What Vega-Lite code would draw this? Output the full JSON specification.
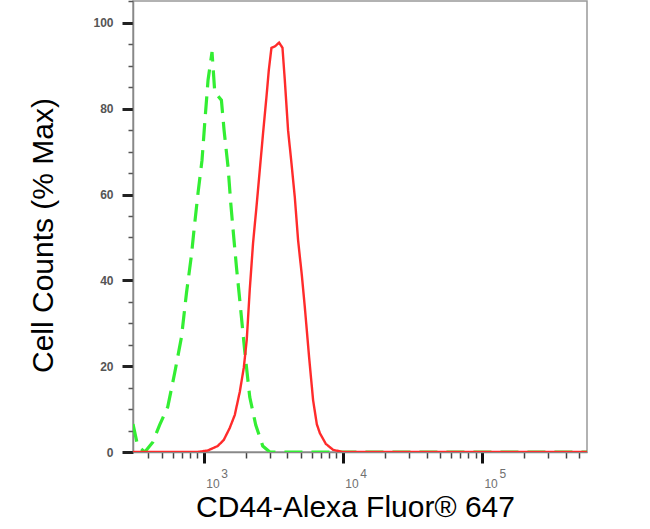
{
  "$schema": "https://vega.github.io/schema/vega-lite/v6.json",
  "autosize": "none",
  "width": 454,
  "height": 451,
  "padding": {"left": 133, "top": 1, "right": 63, "bottom": 77},
  "background": "white",
  "config": {
    "view": {"stroke": "#999999", "strokeWidth": 1.5},
    "font": "Liberation Sans",
    "axis": {"grid": false, "labelOverlap": false, "labelBound": false, "labelFlush": false}
  },
  "data": {
    "values": [
      {"series": "Control", "x": 310, "y": 6.5},
      {"series": "Control", "x": 335, "y": 1.4},
      {"series": "Control", "x": 377, "y": 0},
      {"series": "Control", "x": 430, "y": 2.3},
      {"series": "Control", "x": 482, "y": 6.3},
      {"series": "Control", "x": 551, "y": 10.5},
      {"series": "Control", "x": 618, "y": 18.4},
      {"series": "Control", "x": 692, "y": 26.8},
      {"series": "Control", "x": 751, "y": 37},
      {"series": "Control", "x": 816, "y": 45.9},
      {"series": "Control", "x": 851, "y": 51.7},
      {"series": "Control", "x": 910, "y": 60.4},
      {"series": "Control", "x": 972, "y": 68},
      {"series": "Control", "x": 1017, "y": 76.7},
      {"series": "Control", "x": 1074, "y": 86.7},
      {"series": "Control", "x": 1147, "y": 93.2},
      {"series": "Control", "x": 1200, "y": 83.9},
      {"series": "Control", "x": 1340, "y": 82},
      {"series": "Control", "x": 1400, "y": 75},
      {"series": "Control", "x": 1496, "y": 66.4},
      {"series": "Control", "x": 1564, "y": 58},
      {"series": "Control", "x": 1643, "y": 50.1},
      {"series": "Control", "x": 1719, "y": 43.1},
      {"series": "Control", "x": 1816, "y": 35.4},
      {"series": "Control", "x": 1972, "y": 23.5},
      {"series": "Control", "x": 2142, "y": 12.8},
      {"series": "Control", "x": 2366, "y": 6.3},
      {"series": "Control", "x": 2656, "y": 1.4},
      {"series": "Control", "x": 2985, "y": 0},
      {"series": "Control", "x": 8000, "y": 0},
      {"series": "Control", "x": 50000, "y": 0},
      {"series": "Control", "x": 570000, "y": 0},
      {"series": "CD44", "x": 310, "y": 0},
      {"series": "CD44", "x": 900, "y": 0},
      {"series": "CD44", "x": 1069, "y": 0.35},
      {"series": "CD44", "x": 1261, "y": 1.4},
      {"series": "CD44", "x": 1393, "y": 2.8},
      {"series": "CD44", "x": 1538, "y": 5.6},
      {"series": "CD44", "x": 1671, "y": 8.6},
      {"series": "CD44", "x": 1816, "y": 14},
      {"series": "CD44", "x": 1940, "y": 19.6},
      {"series": "CD44", "x": 2038, "y": 26.1},
      {"series": "CD44", "x": 2142, "y": 37.8},
      {"series": "CD44", "x": 2263, "y": 48.7},
      {"series": "CD44", "x": 2394, "y": 57.1},
      {"series": "CD44", "x": 2529, "y": 65.7},
      {"series": "CD44", "x": 2672, "y": 74.4},
      {"series": "CD44", "x": 2826, "y": 82.8},
      {"series": "CD44", "x": 2937, "y": 89},
      {"series": "CD44", "x": 3069, "y": 94.2},
      {"series": "CD44", "x": 3243, "y": 94.5},
      {"series": "CD44", "x": 3481, "y": 95.4},
      {"series": "CD44", "x": 3683, "y": 94.2},
      {"series": "CD44", "x": 3827, "y": 86.7},
      {"series": "CD44", "x": 4040, "y": 75},
      {"series": "CD44", "x": 4271, "y": 67.4},
      {"series": "CD44", "x": 4516, "y": 59.4},
      {"series": "CD44", "x": 4768, "y": 49.4},
      {"series": "CD44", "x": 5070, "y": 41.3},
      {"series": "CD44", "x": 5330, "y": 33.8},
      {"series": "CD44", "x": 5723, "y": 22.1},
      {"series": "CD44", "x": 6113, "y": 12.1},
      {"series": "CD44", "x": 6502, "y": 6.5},
      {"series": "CD44", "x": 6836, "y": 4.4},
      {"series": "CD44", "x": 7551, "y": 1.9},
      {"series": "CD44", "x": 8517, "y": 0.5},
      {"series": "CD44", "x": 10000, "y": 0},
      {"series": "CD44", "x": 100000, "y": 0},
      {"series": "CD44", "x": 570000, "y": 0}
    ]
  },
  "resolve": {"axis": {"x": "independent", "y": "independent"}},
  "layer": [
    {
      "mark": {"type": "point", "opacity": 0},
      "encoding": {
        "x": {
          "field": "x", "type": "quantitative",
          "scale": {"type": "log", "domain": [310, 570000], "nice": false},
          "axis": {
            "orient": "bottom", "title": null, "domain": false,
            "values": [400, 500, 600, 700, 800, 900, 2000, 3000, 4000, 5000, 6000, 7000, 8000, 9000, 20000, 30000, 40000, 50000, 60000, 70000, 80000, 90000, 200000, 300000, 400000, 500000],
            "ticks": true, "tickSize": 6, "tickWidth": 1.5, "tickColor": "#444444",
            "labels": false
          }
        },
        "y": {
          "field": "y", "type": "quantitative",
          "scale": {"domain": [0, 105.1], "nice": false, "zero": true},
          "axis": {
            "orient": "left", "title": null, "domain": false,
            "values": [5, 10, 15, 25, 30, 35, 45, 50, 55, 65, 70, 75, 85, 90, 95, 105],
            "ticks": true, "tickSize": 5, "tickWidth": 1.5, "tickColor": "#555555",
            "labels": false
          }
        }
      }
    },
    {
      "mark": {"type": "point", "opacity": 0},
      "encoding": {
        "x": {
          "field": "x", "type": "quantitative",
          "axis": {
            "orient": "bottom", "title": null, "domain": false,
            "values": [1000, 10000, 100000],
            "ticks": false, "tickSize": 0,
            "labelExpr": "'10'",
            "labelAlign": "left", "labelBaseline": "alphabetic",
            "labelOffset": 2, "labelPadding": 35,
            "labelFontSize": 12, "labelColor": "#707070", "labelFont": "Liberation Sans"
          }
        },
        "y": {"field": "y", "type": "quantitative", "axis": null}
      }
    },
    {
      "mark": {"type": "point", "opacity": 0},
      "encoding": {
        "x": {
          "field": "x", "type": "quantitative",
          "axis": {
            "orient": "bottom", "title": null, "domain": false,
            "values": [1000, 10000, 100000],
            "ticks": false, "tickSize": 0,
            "labelExpr": "datum.value == 1000 ? '3' : datum.value == 10000 ? '4' : '5'",
            "labelAlign": "left", "labelBaseline": "alphabetic",
            "labelOffset": 17, "labelPadding": 25,
            "labelFontSize": 12, "labelColor": "#707070", "labelFont": "Liberation Sans"
          }
        },
        "y": {"field": "y", "type": "quantitative", "axis": null}
      }
    },
    {
      "mark": {"type": "line", "clip": true, "interpolate": "linear"},
      "encoding": {
        "x": {
          "field": "x", "type": "quantitative",
          "axis": {
            "orient": "bottom",
            "title": "CD44-Alexa Fluor® 647",
            "titleFont": "Liberation Sans",
            "titleFontSize": 30,
            "titleFontWeight": "normal",
            "titleColor": "#000000",
            "titleX": 222,
            "titleY": 64,
            "titleAlign": "center",
            "titleBaseline": "alphabetic",
            "domainColor": "#888888",
            "domainWidth": 1.5,
            "values": [1000, 10000, 100000],
            "ticks": true, "tickSize": 11, "tickWidth": 3, "tickColor": "#111111",
            "labels": false
          }
        },
        "y": {
          "field": "y", "type": "quantitative",
          "axis": {
            "orient": "left",
            "title": "Cell Counts (% Max)",
            "titleFont": "Liberation Sans",
            "titleFontSize": 30,
            "titleFontWeight": "normal",
            "titleColor": "#000000",
            "titleAngle": -90,
            "titleX": -90,
            "titleY": 234,
            "titleAlign": "center",
            "titleBaseline": "middle",
            "domainColor": "#888888",
            "domainWidth": 1.5,
            "values": [0, 20, 40, 60, 80, 100],
            "ticks": true, "tickSize": 11, "tickWidth": 3, "tickColor": "#222222",
            "labelPadding": 9,
            "labelFontSize": 12,
            "labelFontWeight": "bold",
            "labelColor": "#555555",
            "labelFont": "Liberation Sans"
          }
        },
        "color": {
          "field": "series", "type": "nominal",
          "scale": {"domain": ["Control", "CD44"], "range": ["#33ee33", "#ff2b2b"]},
          "legend": null
        },
        "strokeDash": {
          "field": "series", "type": "nominal",
          "scale": {"domain": ["Control", "CD44"], "range": [[18, 9], [1, 0]]},
          "legend": null
        },
        "strokeWidth": {
          "field": "series", "type": "nominal",
          "scale": {"domain": ["Control", "CD44"], "range": [3.2, 2.4]},
          "legend": null
        }
      }
    }
  ]
}
